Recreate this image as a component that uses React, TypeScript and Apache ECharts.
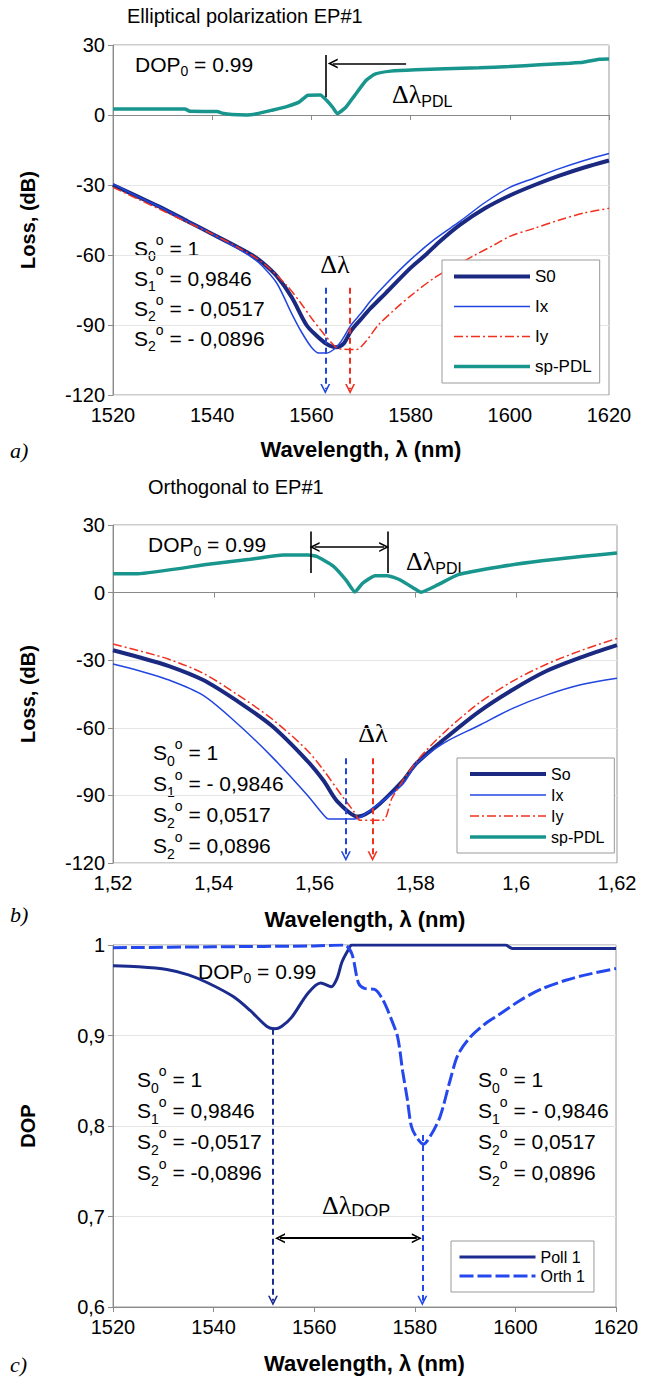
import React, { useEffect, useRef } from "react";
import * as echarts from "echarts";

// ---------- Panel a (Elliptical polarization EP#1), wavelength in nm ----------
const aS0Wl = [1520, 1525, 1530, 1535, 1540, 1545, 1548, 1550, 1553, 1556, 1559, 1561, 1563, 1565, 1566.5, 1568, 1570, 1572, 1575, 1580, 1583, 1586, 1590, 1595, 1600, 1605, 1610, 1615, 1620];
const aS0Loss = [-30, -35, -40, -45.5, -51, -56.5, -60, -63, -69, -78, -90, -94.5, -98, -99.5, -98, -92.5, -87.5, -82.7, -76.3, -65.5, -60, -54, -47, -40, -34.5, -30, -26, -22.5, -19.5];
const aIxWl = [1520, 1525, 1530, 1535, 1540, 1545, 1548, 1550, 1553, 1556, 1558, 1560, 1561.5, 1563, 1564.5, 1566, 1568, 1570, 1572, 1575, 1580, 1585, 1590, 1595, 1600, 1605, 1610, 1615, 1620];
const aIxLoss = [-29.5, -35, -40, -45.5, -51, -57, -61, -64.5, -72, -85, -93, -99.5, -102, -102, -100.5, -97, -90, -85, -79.5, -72.5, -62, -53, -45.5, -37.5, -31, -27, -23, -19.5, -16.5];
const aIyWl = [1520, 1525, 1530, 1535, 1540, 1545, 1550, 1555, 1558, 1560, 1562, 1564, 1565.5, 1569, 1571, 1573.5, 1577, 1580, 1585, 1590, 1593, 1597, 1600, 1605, 1610, 1615, 1620];
const aIyLoss = [-31, -36, -41, -46, -51, -56.5, -63, -73, -81, -87, -92.5, -97.5, -100.2, -100.5, -97, -90, -83, -77.5, -69.5, -63.5, -60, -55.5, -52, -48.5, -45, -42, -40];
const aPdlWl = [1520, 1534.5, 1535.5, 1541, 1542, 1544, 1547, 1549, 1552, 1555, 1557.5, 1559.3, 1561.8, 1563.1, 1564.4, 1565.2, 1566.9, 1568.6, 1571, 1572.8, 1576, 1581, 1587, 1593.8, 1600, 1606, 1612, 1614.8, 1618, 1620];
const aPdl = [2.6, 2.6, 1.6, 1.5, 0.8, 0.2, 0.0, 0.5, 2.0, 3.6, 5.5, 8.5, 8.6, 6.2, 3.0, 0.6, 3.2, 8.0, 14.8, 17.5, 18.8, 19.4, 19.8, 20.2, 20.8, 21.5, 22.2, 22.6, 23.9, 24.0];

// ---------- Panel b (Orthogonal to EP#1), wavelength in µm ----------
const bS0Wl = [1.52, 1.525, 1.5311, 1.5379, 1.5447, 1.5515, 1.5584, 1.5618, 1.5645, 1.5686, 1.572, 1.5775, 1.5802, 1.5857, 1.5925, 1.5993, 1.6061, 1.613, 1.62];
const bS0Loss = [-25.6, -28.6, -32.6, -38.8, -48.2, -59.1, -74.3, -83.5, -92.6, -99.4, -95.5, -83.5, -75.8, -65.1, -53, -43.1, -34.7, -28.6, -23.3];
const bIxWl = [1.52, 1.525, 1.5311, 1.5379, 1.5447, 1.5515, 1.5584, 1.5618, 1.5628, 1.5679, 1.572, 1.5775, 1.5802, 1.5857, 1.5925, 1.5993, 1.6061, 1.613, 1.62];
const bIxLoss = [-31.7, -34.6, -38.8, -45.6, -58.2, -72.8, -89.5, -98.7, -100.5, -100.5, -95, -85, -76, -66.7, -59.1, -51.4, -45.4, -40.8, -38];
const bIyWl = [1.52, 1.525, 1.5311, 1.5379, 1.5447, 1.5515, 1.5584, 1.5618, 1.5652, 1.5679, 1.569, 1.5735, 1.5754, 1.5802, 1.5857, 1.5925, 1.5993, 1.6061, 1.613, 1.62];
const bIyLoss = [-22.8, -25.7, -29.6, -35.8, -45.3, -56, -69.7, -78.9, -89.5, -97.5, -101, -101, -91, -75, -62.1, -49.2, -39.3, -31.7, -25.6, -20.3];
const bPdlWl = [1.52, 1.5249, 1.5389, 1.5472, 1.5538, 1.5587, 1.5604, 1.5637, 1.5662, 1.568, 1.5695, 1.572, 1.5745, 1.5769, 1.5803, 1.5811, 1.5844, 1.5885, 1.5968, 1.6051, 1.6133, 1.62];
const bPdl = [8.4, 8.4, 12.6, 14.8, 16.7, 16.7, 16.1, 11.8, 5.7, 0.3, 4.1, 7.5, 7.5, 5.7, 1.1, 0.2, 3.4, 8.0, 11.5, 14.1, 16.1, 17.6];

// ---------- Panel c (DOP), wavelength in nm ----------
const cPollWl = [1520, 1525, 1530.7, 1535, 1538.9, 1543.9, 1547.2, 1550.6, 1552.2, 1553.5, 1555.5, 1558.8, 1561.3, 1563.4, 1564.6, 1565.5, 1566.7, 1567.5, 1598, 1599.4, 1620];
const cPoll = [0.977, 0.976, 0.973, 0.967, 0.958, 0.943, 0.928, 0.91, 0.9075, 0.91, 0.92, 0.947, 0.958, 0.954, 0.964, 0.981, 0.994, 1.0, 1.0, 0.996, 0.996];
const cOrthWl = [1520, 1540, 1560, 1566, 1567.5, 1568.8, 1570, 1572, 1573.7, 1575.4, 1576.6, 1577.6, 1578.5, 1579.3, 1580.3, 1581.7, 1583, 1585, 1587, 1588.6, 1591, 1594, 1597, 1601, 1605, 1610, 1614, 1620];
const cOrth = [0.997, 0.998, 0.999, 1.0, 0.99, 0.958, 0.952, 0.951, 0.939, 0.917, 0.898, 0.86, 0.83, 0.8, 0.788, 0.78, 0.788, 0.81, 0.85, 0.879, 0.898, 0.913, 0.924, 0.939, 0.951, 0.961, 0.967, 0.974];

// Tick settings / annotation values
const lossTicks = { min: -120, max: 30, interval: 30 };
const dopTicks = { min: 0.6, max: 1, interval: 0.1 };
const stokesA = ["1", "0,9846", "- 0,0517", "- 0,0896"];
const stokesB = ["1", "- 0,9846", "0,0517", "0,0896"];
const stokesCLeft = ["1", "0,9846", "-0,0517", "-0,0896"];
const stokesCRight = ["1", "- 0,9846", "0,0517", "0,0896"];
const stokesSubs = ["0", "1", "2", "2"];

const FONT = '"Liberation Sans", Arial, Helvetica, sans-serif';
const SERIF = '"Liberation Serif", "Times New Roman", serif';
const C_S0 = "#1b2a80";
const C_IX = "#2146e0";
const C_IY = "#f2301e";
const C_PDL = "#18958d";
const C_POLL = "#1c2c8e";
const C_ORTH = "#2448ee";
const ARROW = "path://M5,0 L10,9 L8.3,9 L5,3.1 L1.7,9 L0,9 Z";

const pairs = (xs: number[], ys: number[]) => xs.map((x, i) => [x, ys[i]]);

const line = (name: string, idx: number, data: number[][], color: string, width: number, type: any = "solid", extra: any = {}) => ({
  type: "line",
  name,
  xAxisIndex: idx,
  yAxisIndex: idx,
  data,
  symbol: "none",
  smooth: 0.3,
  silent: true,
  lineStyle: { color, width, type },
  itemStyle: { color },
  ...extra,
});

const mark = (data: any[], lineStyle: any = undefined) => ({
  silent: true,
  symbol: ["none", ARROW],
  symbolSize: 10,
  label: { show: false },
  emphasis: { disabled: true },
  ...(lineStyle ? { lineStyle } : {}),
  data,
});

const richBase = (fs: number, lh: number) => ({
  m: { fontSize: fs, fontFamily: FONT, lineHeight: lh, fill: "#000" },
  b: { fontSize: Math.round(fs * 0.66), fontFamily: FONT, lineHeight: Math.round(fs * 0.75), verticalAlign: "bottom", fill: "#000" },
  p: { fontSize: Math.round(fs * 0.66), fontFamily: FONT, lineHeight: Math.round(fs * 1.05), verticalAlign: "top", fill: "#000" },
  d: { fontSize: 26, fontFamily: SERIF, lineHeight: 30, fill: "#000" },
  s: { fontSize: 16, fontFamily: FONT, lineHeight: 18, verticalAlign: "bottom", fill: "#000" },
});

const stokesText = (vals: string[]) =>
  vals.map((v, i) => `{m|S}{b|${stokesSubs[i]}}{p|o}{m| = ${v}}`).join("\n");

const text = (x: number, y: number, t: string, rich: any, align = "left", va = "middle", extra: any = {}) => ({
  type: "text",
  x,
  y,
  silent: true,
  style: { text: t, rich, align, verticalAlign: va, fill: "#000", fontFamily: FONT, fontSize: 20, ...extra },
});

const plainFmt = (v: number) => String(v);

const xAxisBase = (idx: number, extra: any) => ({
  gridIndex: idx,
  type: "value",
  axisLine: { show: true, lineStyle: { color: "#8a8a8a", width: 1 } },
  axisTick: { show: true, length: 5, lineStyle: { color: "#8a8a8a" } },
  axisLabel: { fontSize: 20, fontFamily: FONT, color: "#000", margin: 10, formatter: plainFmt },
  splitLine: { show: false },
  name: "Wavelength, λ (nm)",
  nameLocation: "middle",
  nameGap: 43,
  nameTextStyle: { fontSize: 22, fontWeight: "bold", fontFamily: FONT, color: "#000" },
  ...extra,
});

const yAxisBase = (idx: number, name: string, extra: any) => ({
  gridIndex: idx,
  type: "value",
  axisLine: { show: true, lineStyle: { color: "#8a8a8a", width: 1 } },
  axisTick: { show: true, length: 5, lineStyle: { color: "#8a8a8a" } },
  axisLabel: { fontSize: 20, fontFamily: FONT, color: "#000", margin: 8 },
  splitLine: { show: true, lineStyle: { color: "#e6e6e6", width: 1 } },
  name,
  nameLocation: "middle",
  nameGap: 75,
  nameTextStyle: { fontSize: 20, fontWeight: "bold", fontFamily: FONT, color: "#000" },
  ...extra,
});

const legendBase = (data: string[], left: number, top: number, fs: number, gap: number, padding: number[]) => ({
  data,
  orient: "vertical",
  left,
  top,
  itemWidth: 76,
  itemHeight: 12,
  itemGap: gap,
  padding,
  borderColor: "#9a9a9a",
  borderWidth: 1,
  backgroundColor: "#fff",
  selectedMode: false,
  textStyle: { fontSize: fs, fontFamily: FONT, color: "#000" },
  lineStyle: { width: "inherit" },
  itemStyle: { opacity: 0 },
});

function buildOption() {
  const commaFmt2 = (v: number) => String(Math.round(v * 100) / 100).replace(".", ",");
  const commaFmt1 = (v: number) => String(Math.round(v * 10) / 10).replace(".", ",");
  const rA = richBase(21, 30);
  const rB = richBase(21, 31);
  const rDop = richBase(21, 28);
  const dashBlue = { color: C_IX, width: 2, type: [6, 4] };
  const dashRed = { color: C_IY, width: 2, type: [6, 4] };
  const black = { color: "#000", width: 1.6, type: "solid" };

  return {
    animation: false,
    backgroundColor: "#fff",
    textStyle: { fontFamily: FONT },
    grid: [
      { left: 113, top: 45, width: 496, height: 350, show: true, borderColor: "#9a9a9a", borderWidth: 1, backgroundColor: "transparent" },
      { left: 113, top: 525, width: 504, height: 338, show: true, borderColor: "#9a9a9a", borderWidth: 1, backgroundColor: "transparent" },
      { left: 113, top: 945, width: 503, height: 362, show: true, borderColor: "#9a9a9a", borderWidth: 1, backgroundColor: "transparent" },
    ],
    xAxis: [
      xAxisBase(0, { min: 1520, max: 1620, interval: 20 }),
      xAxisBase(1, { min: 1.52, max: 1.62, interval: 0.02, nameGap: 45, axisLabel: { fontSize: 20, fontFamily: FONT, color: "#000", margin: 10, formatter: commaFmt2 } }),
      xAxisBase(2, { min: 1520, max: 1620, interval: 20, nameGap: 45 }),
    ],
    yAxis: [
      yAxisBase(0, "Loss, (dB)", { ...lossTicks }),
      yAxisBase(1, "Loss, (dB)", { ...lossTicks }),
      yAxisBase(2, "DOP", { ...dopTicks, axisLabel: { fontSize: 20, fontFamily: FONT, color: "#000", margin: 8, formatter: commaFmt1 } }),
    ],
    legend: [
      legendBase(["S0", "Ix", "Iy", "sp-PDL"], 442, 260, 17, 13, [8, 8, 8, 10]),
      legendBase(["So", "Ix", "Iy", "sp-PDL"], 457, 758, 16, 5, [8, 10, 8, 11]),
      legendBase(["Poll 1", "Orth 1"], 451, 1241, 16, 3, [8, 9, 8, 7]),
    ],
    series: [
      // panel a
      line("S0", 0, pairs(aS0Wl, aS0Loss), C_S0, 4),
      line("Ix", 0, pairs(aIxWl, aIxLoss), C_IX, 1.5, "solid", {
        markLine: mark([[{ coord: [1562.8, -74] }, { coord: [1562.8, -117.4] }]], dashBlue),
      }),
      line("Iy", 0, pairs(aIyWl, aIyLoss), C_IY, 1.5, [9, 3, 2, 3], {
        markLine: mark([[{ coord: [1567.8, -74] }, { coord: [1567.8, -117.4] }]], dashRed),
      }),
      line("sp-PDL", 0, pairs(aPdlWl, aPdl), C_PDL, 3.5, "solid", {
        smooth: 0.15,
        markLine: mark(
          [
            [{ coord: [1562.8, 7.6], symbol: "none" }, { coord: [1562.8, 25.7], symbol: "none" }],
            [{ coord: [1579.1, 22.1] }, { coord: [1564.3, 22.1] }],
          ],
          black
        ),
      }),
      // panel b
      line("So", 1, pairs(bS0Wl, bS0Loss), C_S0, 4),
      line("Ix", 1, pairs(bIxWl, bIxLoss), C_IX, 1.5, "solid", {
        markLine: mark([[{ coord: [1.5662, -73.5] }, { coord: [1.5662, -117] }]], dashBlue),
      }),
      line("Iy", 1, pairs(bIyWl, bIyLoss), C_IY, 1.5, [9, 3, 2, 3], {
        markLine: mark([[{ coord: [1.5715, -73.5] }, { coord: [1.5715, -117] }]], dashRed),
      }),
      line("sp-PDL", 1, pairs(bPdlWl, bPdl), C_PDL, 3.5, "solid", {
        smooth: 0.15,
        markLine: mark(
          [
            [{ coord: [1.5592, 8.7], symbol: "none" }, { coord: [1.5592, 27.1], symbol: "none" }],
            [{ coord: [1.5746, 8.7], symbol: "none" }, { coord: [1.5746, 27.1], symbol: "none" }],
            [{ coord: [1.56, 20.2], symbol: ARROW }, { coord: [1.5738, 20.2] }],
          ],
          black
        ),
      }),
      // panel c
      line("Poll 1", 2, pairs(cPollWl, cPoll), C_POLL, 3, "solid", {
        markLine: mark([
          [{ coord: [1551.8, 0.9075], lineStyle: { color: C_POLL, width: 2, type: [6, 4] } }, { coord: [1551.8, 0.607] }],
          [{ coord: [1553.2, 0.676], symbol: ARROW, lineStyle: { color: "#000", width: 1.8, type: "solid" } }, { coord: [1580.4, 0.676] }],
        ]),
      }),
      line("Orth 1", 2, pairs(cOrthWl, cOrth), C_ORTH, 3, [14, 4], {
        markLine: mark([[{ coord: [1581.5, 0.79] }, { coord: [1581.5, 0.607] }]], { color: C_ORTH, width: 2, type: [6, 4] }),
      }),
    ],
    graphic: [
      // titles
      text(127, 16, "Elliptical polarization EP#1", undefined, "left", "middle", { fontSize: 20 }),
      text(148, 487, "Orthogonal to EP#1", undefined, "left", "middle", { fontSize: 20 }),
      // panel a annotations
      text(135, 64, "{m|DOP}{b|0}{m| = 0.99}", rDop),
      text(392, 94, "{d|Δλ}{s|PDL}", rA),
      text(335, 264, "{d|Δλ}", rA, "center"),
      text(134, 233, stokesText(stokesA), rA, "left", "top"),
      // panel b annotations
      text(148, 544, "{m|DOP}{b|0}{m| = 0.99}", rDop),
      text(406, 561, "{d|Δλ}{s|PDL}", rA),
      text(373, 733, "{d|Δλ}", rA, "center"),
      text(153, 737, stokesText(stokesB), rB, "left", "top"),
      // panel c annotations
      text(198, 971, "{m|DOP}{b|0}{m| = 0.99}", rDop),
      text(137, 1064, stokesText(stokesCLeft), rB, "left", "top"),
      text(478, 1064, stokesText(stokesCRight), rB, "left", "top"),
      text(322, 1205, "{d|Δλ}{s|DOP}", { ...rA, s: { ...rA.s, fontSize: 18, lineHeight: 20 } }),
      // sub-figure labels
      text(10, 450, "a)", undefined, "left", "middle", { fontFamily: SERIF, fontStyle: "italic", fontSize: 22 }),
      text(10, 914, "b)", undefined, "left", "middle", { fontFamily: SERIF, fontStyle: "italic", fontSize: 22 }),
      text(10, 1364, "c)", undefined, "left", "middle", { fontFamily: SERIF, fontStyle: "italic", fontSize: 22 }),
    ],
  };
}

export default function App() {
  const ref = useRef<HTMLDivElement>(null);
  useEffect(() => {
    if (!ref.current) return;
    const chart = echarts.init(ref.current, null, { renderer: "svg" });
    chart.setOption(buildOption() as any);
    return () => chart.dispose();
  }, []);
  return (
    <div
      ref={ref}
      style={{ position: "absolute", left: 0, top: 0, width: 654, height: 1381, background: "#fff" }}
    />
  );
}
